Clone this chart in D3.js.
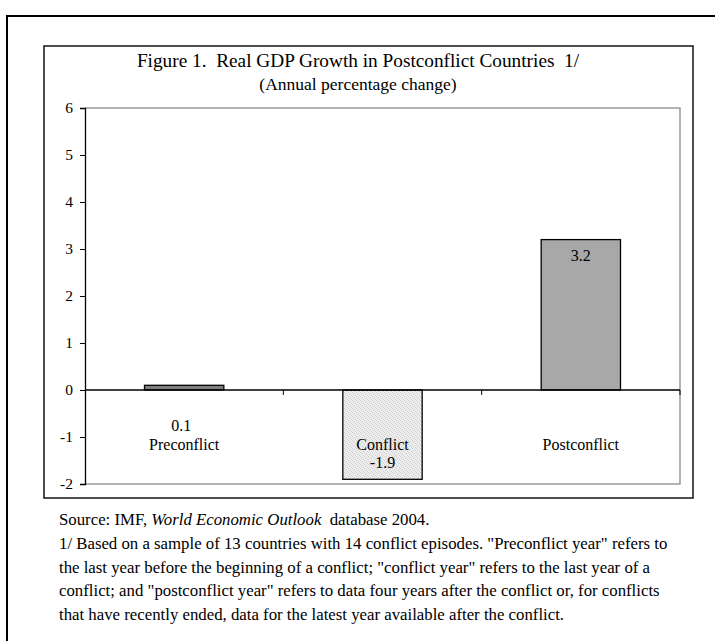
<!DOCTYPE html>
<html>
<head>
<meta charset="utf-8">
<script src="https://cdn.jsdelivr.net/npm/d3@7/dist/d3.min.js"></script>
<style>
  html, body { margin: 0; padding: 0; background: #fff; }
  svg { display: block; }
  text { font-family: "Liberation Serif", "Times New Roman", serif; fill: #000; white-space: pre; }
</style>
</head>
<body>
<svg id="chart" width="715" height="641"></svg>
<script>
// Real GDP growth around conflict episodes (annual % change)
const categories = ["Preconflict", "Conflict", "Postconflict"];
const growth = [0.1, -1.9, 3.2];
const valueLabels = ["0.1", "-1.9", "3.2"];
const yTicks = [-2, -1, 0, 1, 2, 3, 4, 5, 6];
const titleLines = ["Figure 1.  Real GDP Growth in Postconflict Countries  1/", "(Annual percentage change)"];
const noteLines = [
  "1/ Based on a sample of 13 countries with 14 conflict episodes. \"Preconflict year\" refers to",
  "the last year before the beginning of a conflict; \"conflict year\" refers to the last year of a",
  "conflict; and \"postconflict year\" refers to data four years after the conflict or, for conflicts",
  "that have recently ended, data for the latest year available after the conflict."
];

const svg = d3.select("#chart");

// fine stipple for the conflict-year bar
const defs = svg.append("defs");
const pat = defs.append("pattern").attr("id", "stipple")
  .attr("width", 4).attr("height", 4).attr("patternUnits", "userSpaceOnUse");
pat.append("rect").attr("width", 4).attr("height", 4).attr("fill", "#eeeeee");
[[0, 0], [2, 1], [1, 2], [3, 3]].forEach(([px, py]) =>
  pat.append("rect").attr("x", px).attr("y", py).attr("width", 1).attr("height", 1).attr("fill", "#cfcfcf"));

// page frame
svg.append("path").attr("d", "M7,641 V16 H715").attr("fill", "none")
  .attr("stroke", "#000").attr("stroke-width", 2);

// chart box
svg.append("rect").attr("x", 44).attr("y", 46).attr("width", 649).attr("height", 452)
  .attr("fill", "none").attr("stroke", "#222").attr("stroke-width", 1.6);

// titles
svg.append("text").attr("x", 358).attr("y", 67).attr("text-anchor", "middle")
  .attr("font-size", 19.3).text(titleLines[0]);
svg.append("text").attr("x", 358).attr("y", 90).attr("text-anchor", "middle")
  .attr("font-size", 17.5).text(titleLines[1]);

const plot = { left: 85, right: 680, top: 108, bottom: 484 };

const x = d3.scaleBand().domain(categories).range([plot.left, plot.right]).paddingInner(0.6).paddingOuter(0.3);
const xOuter = d3.scaleBand().domain(categories).range([plot.left, plot.right]);
const y = d3.scaleLinear().domain([-2, 6]).range([plot.bottom, plot.top]);

// plot area border (grey)
svg.append("path")
  .attr("d", `M${plot.left},${plot.top} H${plot.right} V${plot.bottom} H${plot.left}`)
  .attr("fill", "none").attr("stroke", "#9a9a9a").attr("stroke-width", 1.5);

// bars
const fills = ["#7f7f7f", "url(#stipple)", "#a8a8a8"];
svg.append("g").selectAll("rect").data(growth).join("rect")
  .attr("x", (d, i) => x(categories[i]))
  .attr("width", x.bandwidth())
  .attr("y", d => y(Math.max(0, d)))
  .attr("height", d => Math.abs(y(d) - y(0)))
  .attr("fill", (d, i) => fills[i])
  .attr("stroke", "#000").attr("stroke-width", 1.3);

// y axis
const yAxis = svg.append("g").attr("transform", `translate(${plot.left},0)`)
  .call(d3.axisLeft(y).tickValues(yTicks).tickSize(5).tickPadding(7).tickFormat(d => String(d)));
yAxis.select(".domain").attr("stroke", "#000").attr("stroke-width", 1.3);
yAxis.selectAll(".tick line").attr("stroke", "#000");
yAxis.selectAll("text").attr("font-size", 15.5).attr("font-family", "Liberation Serif");

// category axis along zero
const zeroY = y(0);
svg.append("line").attr("x1", plot.left).attr("x2", plot.right)
  .attr("y1", zeroY).attr("y2", zeroY).attr("stroke", "#000").attr("stroke-width", 1.3);
const bounds = categories.map(c => xOuter(c) + xOuter.bandwidth());
svg.append("g").selectAll("line").data(bounds).join("line")
  .attr("x1", d => d).attr("x2", d => d)
  .attr("y1", zeroY).attr("y2", zeroY + 5)
  .attr("stroke", "#000");

// category labels (low position)
svg.append("g").selectAll("text").data(categories).join("text")
  .attr("x", c => x(c) + x.bandwidth() / 2)
  .attr("y", 450)
  .attr("text-anchor", "middle").attr("font-size", 16)
  .text(c => c);

// value labels
const labelY = [
  d => y(0) + 41,
  d => y(d) - 11.5,
  d => y(d) + 21
];
svg.append("g").selectAll("text").data(growth).join("text")
  .attr("x", (d, i) => x(categories[i]) + x.bandwidth() / 2 - (i === 0 ? 3 : 0))
  .attr("y", (d, i) => labelY[i](d))
  .attr("text-anchor", "middle").attr("font-size", 16)
  .text((d, i) => valueLabels[i]);

// source and note
const src = svg.append("text").attr("x", 59).attr("y", 525).attr("font-size", 16.8);
src.append("tspan").text("Source: IMF, ");
src.append("tspan").attr("font-style", "italic").text("World Economic Outlook");
src.append("tspan").text("  database 2004.");
svg.append("g").selectAll("text").data(noteLines).join("text")
  .attr("x", 59).attr("y", (d, i) => 549 + i * 23.5)
  .attr("font-size", 16.8)
  .text(d => d);
</script>
</body>
</html>
